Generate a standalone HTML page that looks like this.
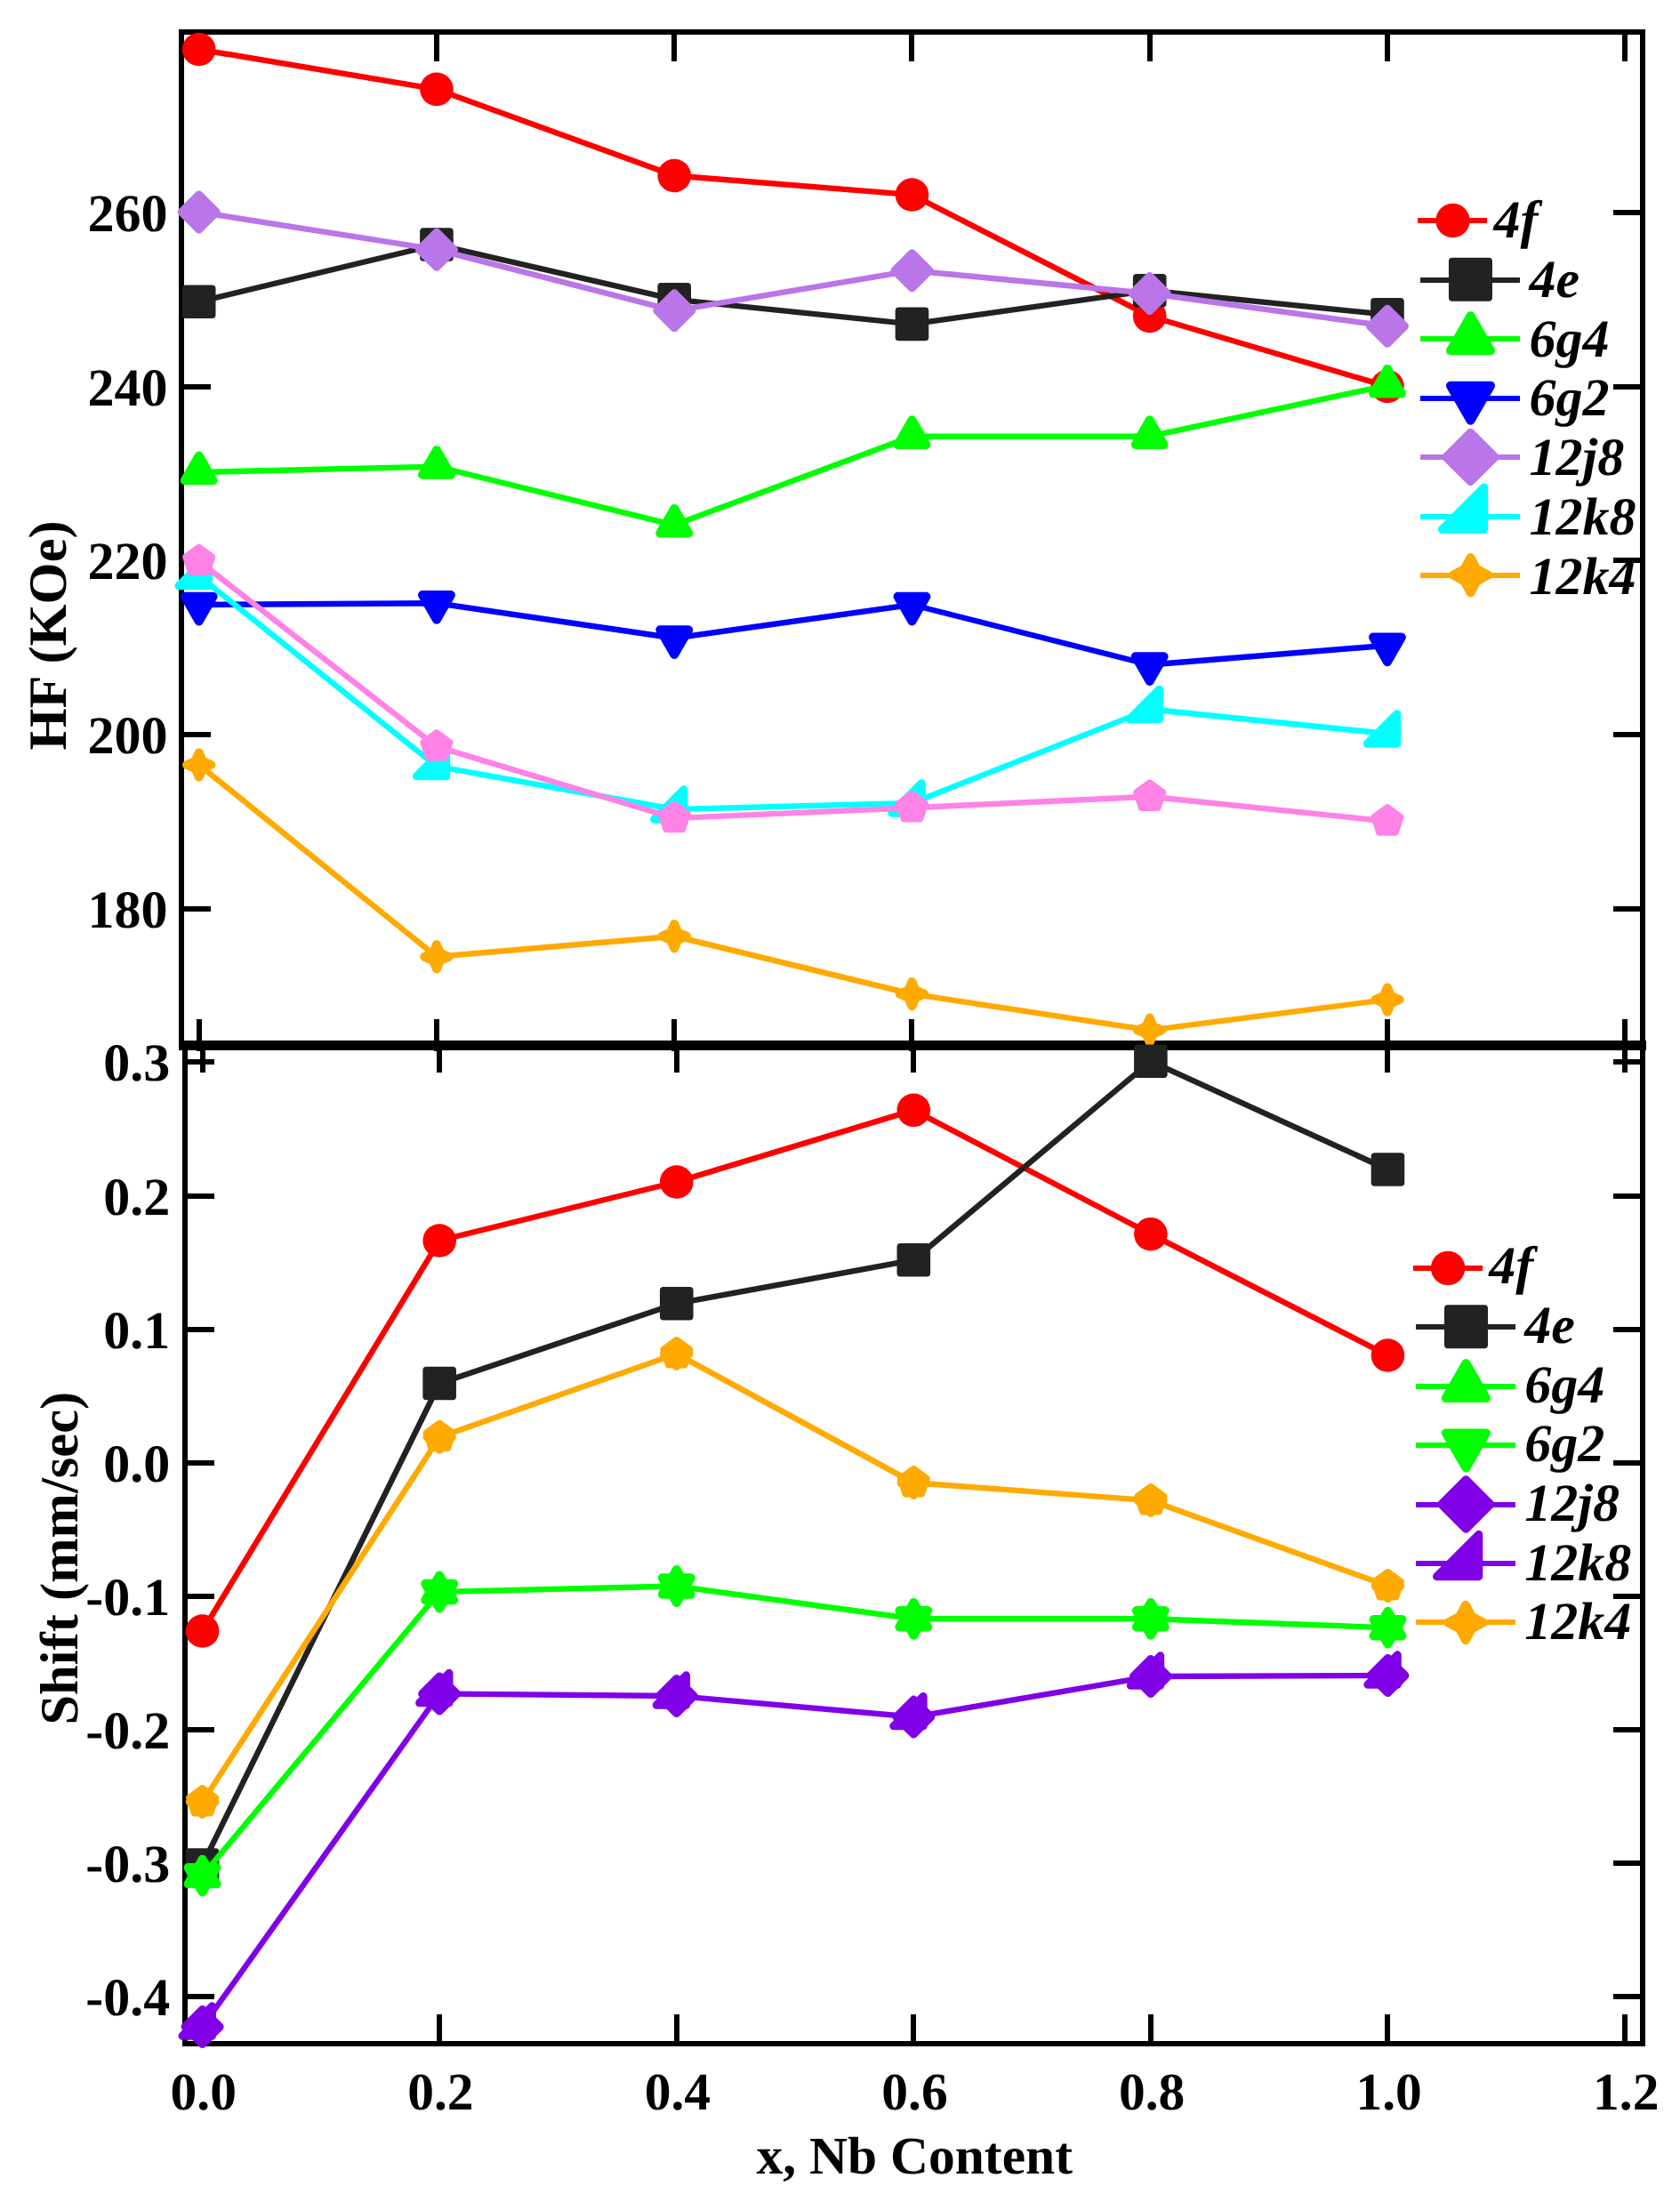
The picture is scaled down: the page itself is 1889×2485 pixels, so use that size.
<!DOCTYPE html>
<html lang="en"><head><meta charset="utf-8"><title>HF and Shift vs Nb Content</title>
<style>
html,body{margin:0;padding:0;background:#fff;}
body{width:1889px;height:2485px;overflow:hidden;}
svg{display:block;}
svg text{text-rendering:geometricPrecision;}
</style></head><body>
<svg width="1889" height="2485" viewBox="0 0 1889 2485" >
<g id="axes" shape-rendering="crispEdges">
<rect x="201.00" y="33.00" width="1649.00" height="6.00" fill="#000"/>
<rect x="201.00" y="33.00" width="6.00" height="1148.00" fill="#000"/>
<rect x="1844.00" y="33.00" width="6.00" height="2268.00" fill="#000"/>
<rect x="201.00" y="1170.00" width="1650.00" height="11.00" fill="#000"/>
<rect x="205.00" y="1181.00" width="6.00" height="1120.00" fill="#000"/>
<rect x="205.00" y="2295.00" width="1645.00" height="6.00" fill="#000"/>
<rect x="221.00" y="39.00" width="6.00" height="30.00" fill="#000"/>
<rect x="221.00" y="1146.00" width="6.00" height="36.00" fill="#000"/>
<rect x="488.00" y="39.00" width="6.00" height="30.00" fill="#000"/>
<rect x="488.00" y="1146.00" width="6.00" height="36.00" fill="#000"/>
<rect x="755.00" y="39.00" width="6.00" height="30.00" fill="#000"/>
<rect x="755.00" y="1146.00" width="6.00" height="36.00" fill="#000"/>
<rect x="1022.00" y="39.00" width="6.00" height="30.00" fill="#000"/>
<rect x="1022.00" y="1146.00" width="6.00" height="36.00" fill="#000"/>
<rect x="1290.00" y="39.00" width="6.00" height="30.00" fill="#000"/>
<rect x="1290.00" y="1146.00" width="6.00" height="36.00" fill="#000"/>
<rect x="1557.00" y="39.00" width="6.00" height="30.00" fill="#000"/>
<rect x="1557.00" y="1146.00" width="6.00" height="36.00" fill="#000"/>
<rect x="1824.00" y="39.00" width="6.00" height="30.00" fill="#000"/>
<rect x="1824.00" y="1146.00" width="6.00" height="36.00" fill="#000"/>
<rect x="225.00" y="1181.00" width="6.00" height="25.00" fill="#000"/>
<rect x="225.00" y="2265.00" width="6.00" height="30.00" fill="#000"/>
<rect x="491.00" y="1181.00" width="6.00" height="25.00" fill="#000"/>
<rect x="491.00" y="2265.00" width="6.00" height="30.00" fill="#000"/>
<rect x="758.00" y="1181.00" width="6.00" height="25.00" fill="#000"/>
<rect x="758.00" y="2265.00" width="6.00" height="30.00" fill="#000"/>
<rect x="1024.00" y="1181.00" width="6.00" height="25.00" fill="#000"/>
<rect x="1024.00" y="2265.00" width="6.00" height="30.00" fill="#000"/>
<rect x="1291.00" y="1181.00" width="6.00" height="25.00" fill="#000"/>
<rect x="1291.00" y="2265.00" width="6.00" height="30.00" fill="#000"/>
<rect x="1557.00" y="1181.00" width="6.00" height="25.00" fill="#000"/>
<rect x="1557.00" y="2265.00" width="6.00" height="30.00" fill="#000"/>
<rect x="1824.00" y="1181.00" width="6.00" height="25.00" fill="#000"/>
<rect x="1824.00" y="2265.00" width="6.00" height="30.00" fill="#000"/>
<rect x="207.00" y="236.00" width="30.00" height="6.00" fill="#000"/>
<rect x="1814.00" y="236.00" width="30.00" height="6.00" fill="#000"/>
<rect x="207.00" y="432.00" width="30.00" height="6.00" fill="#000"/>
<rect x="1814.00" y="432.00" width="30.00" height="6.00" fill="#000"/>
<rect x="207.00" y="627.00" width="30.00" height="6.00" fill="#000"/>
<rect x="1814.00" y="627.00" width="30.00" height="6.00" fill="#000"/>
<rect x="207.00" y="823.00" width="30.00" height="6.00" fill="#000"/>
<rect x="1814.00" y="823.00" width="30.00" height="6.00" fill="#000"/>
<rect x="207.00" y="1019.00" width="30.00" height="6.00" fill="#000"/>
<rect x="1814.00" y="1019.00" width="30.00" height="6.00" fill="#000"/>
<rect x="211.00" y="1191.00" width="30.00" height="6.00" fill="#000"/>
<rect x="1814.00" y="1191.00" width="30.00" height="6.00" fill="#000"/>
<rect x="211.00" y="1342.00" width="30.00" height="6.00" fill="#000"/>
<rect x="1814.00" y="1342.00" width="30.00" height="6.00" fill="#000"/>
<rect x="211.00" y="1492.00" width="30.00" height="6.00" fill="#000"/>
<rect x="1814.00" y="1492.00" width="30.00" height="6.00" fill="#000"/>
<rect x="211.00" y="1642.00" width="30.00" height="6.00" fill="#000"/>
<rect x="1814.00" y="1642.00" width="30.00" height="6.00" fill="#000"/>
<rect x="211.00" y="1792.00" width="30.00" height="6.00" fill="#000"/>
<rect x="1814.00" y="1792.00" width="30.00" height="6.00" fill="#000"/>
<rect x="211.00" y="1942.00" width="30.00" height="6.00" fill="#000"/>
<rect x="1814.00" y="1942.00" width="30.00" height="6.00" fill="#000"/>
<rect x="211.00" y="2092.00" width="30.00" height="6.00" fill="#000"/>
<rect x="1814.00" y="2092.00" width="30.00" height="6.00" fill="#000"/>
<rect x="211.00" y="2242.00" width="30.00" height="6.00" fill="#000"/>
<rect x="1814.00" y="2242.00" width="30.00" height="6.00" fill="#000"/>
</g>
<g font-family="'Liberation Serif', 'Times New Roman', serif" font-weight="bold" font-size="60px" fill="#000">
<text x="188.5" y="260.0" text-anchor="end">260</text>
<text x="188.5" y="456.0" text-anchor="end">240</text>
<text x="188.5" y="651.0" text-anchor="end">220</text>
<text x="188.5" y="847.0" text-anchor="end">200</text>
<text x="188.5" y="1043.0" text-anchor="end">180</text>
<text x="191.3" y="1215.4" text-anchor="end">0.3</text>
<text x="191.3" y="1366.4" text-anchor="end">0.2</text>
<text x="191.3" y="1516.4" text-anchor="end">0.1</text>
<text x="191.3" y="1666.4" text-anchor="end">0.0</text>
<text x="191.3" y="1816.4" text-anchor="end">-0.1</text>
<text x="191.3" y="1966.4" text-anchor="end">-0.2</text>
<text x="191.3" y="2116.4" text-anchor="end">-0.3</text>
<text x="191.3" y="2266.4" text-anchor="end">-0.4</text>
</g>
<g font-family="'Liberation Serif', 'Times New Roman', serif" font-weight="bold" font-size="59.5px" fill="#000">
<text x="228.8" y="2371.8" text-anchor="middle">0.0</text>
<text x="495.4" y="2371.8" text-anchor="middle">0.2</text>
<text x="761.9" y="2371.8" text-anchor="middle">0.4</text>
<text x="1028.5" y="2371.8" text-anchor="middle">0.6</text>
<text x="1295.1" y="2371.8" text-anchor="middle">0.8</text>
<text x="1561.6" y="2371.8" text-anchor="middle">1.0</text>
<text x="1828.2" y="2371.8" text-anchor="middle">1.2</text>
<text x="1028.3" y="2444.2" text-anchor="middle">x, Nb Content</text>
</g>
<g font-family="'Liberation Serif', 'Times New Roman', serif" font-weight="bold" font-size="60.5px" fill="#000">
<text transform="translate(73.8,714.4) rotate(-90)" text-anchor="middle">HF (KOe)</text>
<text transform="translate(87,1752.2) rotate(-90)" text-anchor="middle">Shift (mm/sec)</text>
</g>
<g id="top">
<polyline points="223.70,55.50 490.95,100.40 758.20,197.50 1025.45,219.00 1292.70,355.50 1559.95,434.50" fill="none" stroke="#ff0000" stroke-width="6.4" stroke-linejoin="round"/>
<circle cx="223.70" cy="55.50" r="18.80" fill="#ff0000"/>
<circle cx="490.95" cy="100.40" r="18.80" fill="#ff0000"/>
<circle cx="758.20" cy="197.50" r="18.80" fill="#ff0000"/>
<circle cx="1025.45" cy="219.00" r="18.80" fill="#ff0000"/>
<circle cx="1292.70" cy="355.50" r="18.80" fill="#ff0000"/>
<circle cx="1559.95" cy="434.50" r="18.80" fill="#ff0000"/>
<polyline points="223.70,339.30 490.95,275.00 758.20,336.70 1025.45,364.40 1292.70,326.70 1559.95,353.80" fill="none" stroke="#222222" stroke-width="6.4" stroke-linejoin="round"/>
<polygon points="208.90,324.50 238.50,324.50 238.50,354.10 208.90,354.10" fill="#222222" stroke="#222222" stroke-width="8" stroke-linejoin="round"/>
<polygon points="476.15,260.20 505.75,260.20 505.75,289.80 476.15,289.80" fill="#222222" stroke="#222222" stroke-width="8" stroke-linejoin="round"/>
<polygon points="743.40,321.90 773.00,321.90 773.00,351.50 743.40,351.50" fill="#222222" stroke="#222222" stroke-width="8" stroke-linejoin="round"/>
<polygon points="1010.65,349.60 1040.25,349.60 1040.25,379.20 1010.65,379.20" fill="#222222" stroke="#222222" stroke-width="8" stroke-linejoin="round"/>
<polygon points="1277.90,311.90 1307.50,311.90 1307.50,341.50 1277.90,341.50" fill="#222222" stroke="#222222" stroke-width="8" stroke-linejoin="round"/>
<polygon points="1545.15,339.00 1574.75,339.00 1574.75,368.60 1545.15,368.60" fill="#222222" stroke="#222222" stroke-width="8" stroke-linejoin="round"/>
<polyline points="223.70,531.00 490.95,524.60 758.20,590.30 1025.45,490.70 1292.70,490.70 1559.95,433.30" fill="none" stroke="#00ff00" stroke-width="6.4" stroke-linejoin="round"/>
<polygon points="223.70,512.60 239.63,540.20 207.77,540.20" fill="#00ff00" stroke="#00ff00" stroke-width="10" stroke-linejoin="round"/>
<polygon points="490.95,506.20 506.88,533.80 475.02,533.80" fill="#00ff00" stroke="#00ff00" stroke-width="10" stroke-linejoin="round"/>
<polygon points="758.20,571.90 774.13,599.50 742.27,599.50" fill="#00ff00" stroke="#00ff00" stroke-width="10" stroke-linejoin="round"/>
<polygon points="1025.45,472.30 1041.38,499.90 1009.52,499.90" fill="#00ff00" stroke="#00ff00" stroke-width="10" stroke-linejoin="round"/>
<polygon points="1292.70,472.30 1308.63,499.90 1276.77,499.90" fill="#00ff00" stroke="#00ff00" stroke-width="10" stroke-linejoin="round"/>
<polygon points="1559.95,414.90 1575.88,442.50 1544.02,442.50" fill="#00ff00" stroke="#00ff00" stroke-width="10" stroke-linejoin="round"/>
<polyline points="223.70,680.00 490.95,678.30 758.20,717.50 1025.45,680.00 1292.70,747.50 1559.95,725.80" fill="none" stroke="#0000ff" stroke-width="6.4" stroke-linejoin="round"/>
<polygon points="223.70,698.40 239.63,670.80 207.77,670.80" fill="#0000ff" stroke="#0000ff" stroke-width="10" stroke-linejoin="round"/>
<polygon points="490.95,696.70 506.88,669.10 475.02,669.10" fill="#0000ff" stroke="#0000ff" stroke-width="10" stroke-linejoin="round"/>
<polygon points="758.20,735.90 774.13,708.30 742.27,708.30" fill="#0000ff" stroke="#0000ff" stroke-width="10" stroke-linejoin="round"/>
<polygon points="1025.45,698.40 1041.38,670.80 1009.52,670.80" fill="#0000ff" stroke="#0000ff" stroke-width="10" stroke-linejoin="round"/>
<polygon points="1292.70,765.90 1308.63,738.30 1276.77,738.30" fill="#0000ff" stroke="#0000ff" stroke-width="10" stroke-linejoin="round"/>
<polygon points="1559.95,744.20 1575.88,716.60 1544.02,716.60" fill="#0000ff" stroke="#0000ff" stroke-width="10" stroke-linejoin="round"/>
<polyline points="223.70,238.50 490.95,280.70 758.20,349.30 1025.45,304.30 1292.70,330.00 1559.95,366.70" fill="none" stroke="#ba75e8" stroke-width="6.4" stroke-linejoin="round"/>
<polygon points="223.70,219.00 243.20,238.50 223.70,258.00 204.20,238.50" fill="#ba75e8" stroke="#ba75e8" stroke-width="9" stroke-linejoin="round"/>
<polygon points="490.95,261.20 510.45,280.70 490.95,300.20 471.45,280.70" fill="#ba75e8" stroke="#ba75e8" stroke-width="9" stroke-linejoin="round"/>
<polygon points="758.20,329.80 777.70,349.30 758.20,368.80 738.70,349.30" fill="#ba75e8" stroke="#ba75e8" stroke-width="9" stroke-linejoin="round"/>
<polygon points="1025.45,284.80 1044.95,304.30 1025.45,323.80 1005.95,304.30" fill="#ba75e8" stroke="#ba75e8" stroke-width="9" stroke-linejoin="round"/>
<polygon points="1292.70,310.50 1312.20,330.00 1292.70,349.50 1273.20,330.00" fill="#ba75e8" stroke="#ba75e8" stroke-width="9" stroke-linejoin="round"/>
<polygon points="1559.95,347.20 1579.45,366.70 1559.95,386.20 1540.45,366.70" fill="#ba75e8" stroke="#ba75e8" stroke-width="9" stroke-linejoin="round"/>
<polyline points="223.70,647.60 490.95,861.70 758.20,910.00 1025.45,903.00 1292.70,797.50 1559.95,825.00" fill="none" stroke="#00ffff" stroke-width="6.4" stroke-linejoin="round"/>
<polygon points="234.43,658.73 234.43,625.33 201.03,658.73" fill="#00ffff" stroke="#00ffff" stroke-width="9" stroke-linejoin="round"/>
<polygon points="501.68,872.83 501.68,839.43 468.28,872.83" fill="#00ffff" stroke="#00ffff" stroke-width="9" stroke-linejoin="round"/>
<polygon points="768.93,921.13 768.93,887.73 735.53,921.13" fill="#00ffff" stroke="#00ffff" stroke-width="9" stroke-linejoin="round"/>
<polygon points="1036.18,914.13 1036.18,880.73 1002.78,914.13" fill="#00ffff" stroke="#00ffff" stroke-width="9" stroke-linejoin="round"/>
<polygon points="1303.43,808.63 1303.43,775.23 1270.03,808.63" fill="#00ffff" stroke="#00ffff" stroke-width="9" stroke-linejoin="round"/>
<polygon points="1570.68,836.13 1570.68,802.73 1537.28,836.13" fill="#00ffff" stroke="#00ffff" stroke-width="9" stroke-linejoin="round"/>
<polyline points="223.70,860.00 490.95,1075.80 758.20,1052.70 1025.45,1117.70 1292.70,1158.30 1559.95,1124.00" fill="none" stroke="#ffaa00" stroke-width="6.4" stroke-linejoin="round"/>
<polygon points="223.70,846.30 227.80,855.90 237.40,860.00 227.80,864.10 223.70,873.70 219.60,864.10 210.00,860.00 219.60,855.90" fill="#ffaa00" stroke="#ffaa00" stroke-width="10" stroke-linejoin="round"/>
<polygon points="490.95,1062.10 495.05,1071.70 504.65,1075.80 495.05,1079.90 490.95,1089.50 486.85,1079.90 477.25,1075.80 486.85,1071.70" fill="#ffaa00" stroke="#ffaa00" stroke-width="10" stroke-linejoin="round"/>
<polygon points="758.20,1039.00 762.30,1048.60 771.90,1052.70 762.30,1056.80 758.20,1066.40 754.10,1056.80 744.50,1052.70 754.10,1048.60" fill="#ffaa00" stroke="#ffaa00" stroke-width="10" stroke-linejoin="round"/>
<polygon points="1025.45,1104.00 1029.55,1113.60 1039.15,1117.70 1029.55,1121.80 1025.45,1131.40 1021.35,1121.80 1011.75,1117.70 1021.35,1113.60" fill="#ffaa00" stroke="#ffaa00" stroke-width="10" stroke-linejoin="round"/>
<polygon points="1292.70,1144.60 1296.80,1154.20 1306.40,1158.30 1296.80,1162.40 1292.70,1172.00 1288.60,1162.40 1279.00,1158.30 1288.60,1154.20" fill="#ffaa00" stroke="#ffaa00" stroke-width="10" stroke-linejoin="round"/>
<polygon points="1559.95,1110.30 1564.05,1119.90 1573.65,1124.00 1564.05,1128.10 1559.95,1137.70 1555.85,1128.10 1546.25,1124.00 1555.85,1119.90" fill="#ffaa00" stroke="#ffaa00" stroke-width="10" stroke-linejoin="round"/>
<polyline points="223.70,630.90 490.95,839.50 758.20,920.00 1025.45,908.30 1292.70,895.70 1559.95,923.40" fill="none" stroke="#ff82e6" stroke-width="6.4" stroke-linejoin="round"/>
<polygon points="223.70,615.70 238.16,626.20 232.63,643.20 214.77,643.20 209.24,626.20" fill="#ff82e6" stroke="#ff82e6" stroke-width="8" stroke-linejoin="round"/>
<polygon points="490.95,824.30 505.41,834.80 499.88,851.80 482.02,851.80 476.49,834.80" fill="#ff82e6" stroke="#ff82e6" stroke-width="8" stroke-linejoin="round"/>
<polygon points="758.20,904.80 772.66,915.30 767.13,932.30 749.27,932.30 743.74,915.30" fill="#ff82e6" stroke="#ff82e6" stroke-width="8" stroke-linejoin="round"/>
<polygon points="1025.45,893.10 1039.91,903.60 1034.38,920.60 1016.52,920.60 1010.99,903.60" fill="#ff82e6" stroke="#ff82e6" stroke-width="8" stroke-linejoin="round"/>
<polygon points="1292.70,880.50 1307.16,891.00 1301.63,908.00 1283.77,908.00 1278.24,891.00" fill="#ff82e6" stroke="#ff82e6" stroke-width="8" stroke-linejoin="round"/>
<polygon points="1559.95,908.20 1574.41,918.70 1568.88,935.70 1551.02,935.70 1545.49,918.70" fill="#ff82e6" stroke="#ff82e6" stroke-width="8" stroke-linejoin="round"/>
</g>
<g id="bot">
<polyline points="227.60,1834.00 494.17,1395.00 760.74,1329.00 1027.31,1248.30 1293.88,1387.70 1560.45,1524.00" fill="none" stroke="#ff0000" stroke-width="6.4" stroke-linejoin="round"/>
<circle cx="227.60" cy="1834.00" r="18.80" fill="#ff0000"/>
<circle cx="494.17" cy="1395.00" r="18.80" fill="#ff0000"/>
<circle cx="760.74" cy="1329.00" r="18.80" fill="#ff0000"/>
<circle cx="1027.31" cy="1248.30" r="18.80" fill="#ff0000"/>
<circle cx="1293.88" cy="1387.70" r="18.80" fill="#ff0000"/>
<circle cx="1560.45" cy="1524.00" r="18.80" fill="#ff0000"/>
<polyline points="227.60,2097.00 494.17,1555.50 760.74,1465.70 1027.31,1416.70 1293.88,1193.30 1560.45,1315.00" fill="none" stroke="#222222" stroke-width="6.4" stroke-linejoin="round"/>
<polygon points="212.80,2082.20 242.40,2082.20 242.40,2111.80 212.80,2111.80" fill="#222222" stroke="#222222" stroke-width="8" stroke-linejoin="round"/>
<polygon points="479.37,1540.70 508.97,1540.70 508.97,1570.30 479.37,1570.30" fill="#222222" stroke="#222222" stroke-width="8" stroke-linejoin="round"/>
<polygon points="745.94,1450.90 775.54,1450.90 775.54,1480.50 745.94,1480.50" fill="#222222" stroke="#222222" stroke-width="8" stroke-linejoin="round"/>
<polygon points="1012.51,1401.90 1042.11,1401.90 1042.11,1431.50 1012.51,1431.50" fill="#222222" stroke="#222222" stroke-width="8" stroke-linejoin="round"/>
<polygon points="1279.08,1178.50 1308.68,1178.50 1308.68,1208.10 1279.08,1208.10" fill="#222222" stroke="#222222" stroke-width="8" stroke-linejoin="round"/>
<polygon points="1545.65,1300.20 1575.25,1300.20 1575.25,1329.80 1545.65,1329.80" fill="#222222" stroke="#222222" stroke-width="8" stroke-linejoin="round"/>
<polyline points="227.60,2109.10 494.17,1790.00 760.74,1783.50 1027.31,1820.30 1293.88,1820.30 1560.45,1830.20" fill="none" stroke="#00ff00" stroke-width="6.4" stroke-linejoin="round"/>
<polygon points="227.60,2090.70 243.53,2118.30 211.67,2118.30" fill="#00ff00" stroke="#00ff00" stroke-width="10" stroke-linejoin="round"/>
<polygon points="494.17,1771.60 510.10,1799.20 478.24,1799.20" fill="#00ff00" stroke="#00ff00" stroke-width="10" stroke-linejoin="round"/>
<polygon points="760.74,1765.10 776.67,1792.70 744.81,1792.70" fill="#00ff00" stroke="#00ff00" stroke-width="10" stroke-linejoin="round"/>
<polygon points="1027.31,1801.90 1043.24,1829.50 1011.38,1829.50" fill="#00ff00" stroke="#00ff00" stroke-width="10" stroke-linejoin="round"/>
<polygon points="1293.88,1801.90 1309.81,1829.50 1277.95,1829.50" fill="#00ff00" stroke="#00ff00" stroke-width="10" stroke-linejoin="round"/>
<polygon points="1560.45,1811.80 1576.38,1839.40 1544.52,1839.40" fill="#00ff00" stroke="#00ff00" stroke-width="10" stroke-linejoin="round"/>
<polygon points="227.60,2127.50 243.53,2099.90 211.67,2099.90" fill="#00ff00" stroke="#00ff00" stroke-width="10" stroke-linejoin="round"/>
<polygon points="494.17,1808.40 510.10,1780.80 478.24,1780.80" fill="#00ff00" stroke="#00ff00" stroke-width="10" stroke-linejoin="round"/>
<polygon points="760.74,1801.90 776.67,1774.30 744.81,1774.30" fill="#00ff00" stroke="#00ff00" stroke-width="10" stroke-linejoin="round"/>
<polygon points="1027.31,1838.70 1043.24,1811.10 1011.38,1811.10" fill="#00ff00" stroke="#00ff00" stroke-width="10" stroke-linejoin="round"/>
<polygon points="1293.88,1838.70 1309.81,1811.10 1277.95,1811.10" fill="#00ff00" stroke="#00ff00" stroke-width="10" stroke-linejoin="round"/>
<polygon points="1560.45,1848.60 1576.38,1821.00 1544.52,1821.00" fill="#00ff00" stroke="#00ff00" stroke-width="10" stroke-linejoin="round"/>
<polyline points="227.60,2279.00 494.17,1904.50 760.74,1907.00 1027.31,1930.60 1293.88,1885.00 1560.45,1884.00" fill="none" stroke="#8000e8" stroke-width="6.4" stroke-linejoin="round"/>
<polygon points="227.60,2259.50 247.10,2279.00 227.60,2298.50 208.10,2279.00" fill="#8000e8" stroke="#8000e8" stroke-width="9" stroke-linejoin="round"/>
<polygon points="494.17,1885.00 513.67,1904.50 494.17,1924.00 474.67,1904.50" fill="#8000e8" stroke="#8000e8" stroke-width="9" stroke-linejoin="round"/>
<polygon points="760.74,1887.50 780.24,1907.00 760.74,1926.50 741.24,1907.00" fill="#8000e8" stroke="#8000e8" stroke-width="9" stroke-linejoin="round"/>
<polygon points="1027.31,1911.10 1046.81,1930.60 1027.31,1950.10 1007.81,1930.60" fill="#8000e8" stroke="#8000e8" stroke-width="9" stroke-linejoin="round"/>
<polygon points="1293.88,1865.50 1313.38,1885.00 1293.88,1904.50 1274.38,1885.00" fill="#8000e8" stroke="#8000e8" stroke-width="9" stroke-linejoin="round"/>
<polygon points="1560.45,1864.50 1579.95,1884.00 1560.45,1903.50 1540.95,1884.00" fill="#8000e8" stroke="#8000e8" stroke-width="9" stroke-linejoin="round"/>
<polygon points="238.43,2289.23 238.43,2255.83 205.03,2289.23" fill="#8000e8" stroke="#8000e8" stroke-width="9" stroke-linejoin="round"/>
<polygon points="505.00,1914.73 505.00,1881.33 471.60,1914.73" fill="#8000e8" stroke="#8000e8" stroke-width="9" stroke-linejoin="round"/>
<polygon points="771.57,1917.23 771.57,1883.83 738.17,1917.23" fill="#8000e8" stroke="#8000e8" stroke-width="9" stroke-linejoin="round"/>
<polygon points="1038.14,1940.83 1038.14,1907.43 1004.74,1940.83" fill="#8000e8" stroke="#8000e8" stroke-width="9" stroke-linejoin="round"/>
<polygon points="1304.71,1895.23 1304.71,1861.83 1271.31,1895.23" fill="#8000e8" stroke="#8000e8" stroke-width="9" stroke-linejoin="round"/>
<polygon points="1571.28,1894.23 1571.28,1860.83 1537.88,1894.23" fill="#8000e8" stroke="#8000e8" stroke-width="9" stroke-linejoin="round"/>
<polyline points="227.60,2026.20 494.17,1616.00 760.74,1522.30 1027.31,1667.30 1293.88,1687.30 1560.45,1783.30" fill="none" stroke="#ffaa00" stroke-width="6.4" stroke-linejoin="round"/>
<polygon points="227.60,2012.50 231.70,2022.10 241.30,2026.20 231.70,2030.30 227.60,2039.90 223.50,2030.30 213.90,2026.20 223.50,2022.10" fill="#ffaa00" stroke="#ffaa00" stroke-width="10" stroke-linejoin="round"/>
<polygon points="494.17,1602.30 498.27,1611.90 507.87,1616.00 498.27,1620.10 494.17,1629.70 490.07,1620.10 480.47,1616.00 490.07,1611.90" fill="#ffaa00" stroke="#ffaa00" stroke-width="10" stroke-linejoin="round"/>
<polygon points="760.74,1508.60 764.84,1518.20 774.44,1522.30 764.84,1526.40 760.74,1536.00 756.64,1526.40 747.04,1522.30 756.64,1518.20" fill="#ffaa00" stroke="#ffaa00" stroke-width="10" stroke-linejoin="round"/>
<polygon points="1027.31,1653.60 1031.41,1663.20 1041.01,1667.30 1031.41,1671.40 1027.31,1681.00 1023.21,1671.40 1013.61,1667.30 1023.21,1663.20" fill="#ffaa00" stroke="#ffaa00" stroke-width="10" stroke-linejoin="round"/>
<polygon points="1293.88,1673.60 1297.98,1683.20 1307.58,1687.30 1297.98,1691.40 1293.88,1701.00 1289.78,1691.40 1280.18,1687.30 1289.78,1683.20" fill="#ffaa00" stroke="#ffaa00" stroke-width="10" stroke-linejoin="round"/>
<polygon points="1560.45,1769.60 1564.55,1779.20 1574.15,1783.30 1564.55,1787.40 1560.45,1797.00 1556.35,1787.40 1546.75,1783.30 1556.35,1779.20" fill="#ffaa00" stroke="#ffaa00" stroke-width="10" stroke-linejoin="round"/>
<polygon points="227.60,2011.00 242.06,2021.50 236.53,2038.50 218.67,2038.50 213.14,2021.50" fill="#ffaa00" stroke="#ffaa00" stroke-width="8" stroke-linejoin="round"/>
<polygon points="494.17,1600.80 508.63,1611.30 503.10,1628.30 485.24,1628.30 479.71,1611.30" fill="#ffaa00" stroke="#ffaa00" stroke-width="8" stroke-linejoin="round"/>
<polygon points="760.74,1507.10 775.20,1517.60 769.67,1534.60 751.81,1534.60 746.28,1517.60" fill="#ffaa00" stroke="#ffaa00" stroke-width="8" stroke-linejoin="round"/>
<polygon points="1027.31,1652.10 1041.77,1662.60 1036.24,1679.60 1018.38,1679.60 1012.85,1662.60" fill="#ffaa00" stroke="#ffaa00" stroke-width="8" stroke-linejoin="round"/>
<polygon points="1293.88,1672.10 1308.34,1682.60 1302.81,1699.60 1284.95,1699.60 1279.42,1682.60" fill="#ffaa00" stroke="#ffaa00" stroke-width="8" stroke-linejoin="round"/>
<polygon points="1560.45,1768.10 1574.91,1778.60 1569.38,1795.60 1551.52,1795.60 1545.99,1778.60" fill="#ffaa00" stroke="#ffaa00" stroke-width="8" stroke-linejoin="round"/>
</g>
<g shape-rendering="geometricPrecision">
<line x1="1594.00" y1="248.00" x2="1672.00" y2="248.00" stroke="#ff0000" stroke-width="6"/>
<circle cx="1633.50" cy="248.00" r="19.20" fill="#ff0000"/>
<line x1="1597.00" y1="315.00" x2="1709.00" y2="315.00" stroke="#222222" stroke-width="6"/>
<polygon points="1632.95,293.85 1673.95,293.85 1673.95,334.85 1632.95,334.85" fill="#222222" stroke="#222222" stroke-width="8" stroke-linejoin="round"/>
<line x1="1597.00" y1="381.00" x2="1709.00" y2="381.00" stroke="#00ff00" stroke-width="6"/>
<polygon points="1653.50,355.20 1676.02,394.20 1630.98,394.20" fill="#00ff00" stroke="#00ff00" stroke-width="10" stroke-linejoin="round"/>
<line x1="1597.00" y1="448.00" x2="1709.00" y2="448.00" stroke="#0000ff" stroke-width="6"/>
<polygon points="1653.50,472.70 1676.02,433.70 1630.98,433.70" fill="#0000ff" stroke="#0000ff" stroke-width="10" stroke-linejoin="round"/>
<line x1="1597.00" y1="514.00" x2="1709.00" y2="514.00" stroke="#ba75e8" stroke-width="6"/>
<polygon points="1653.45,486.25 1681.15,513.95 1653.45,541.65 1625.75,513.95" fill="#ba75e8" stroke="#ba75e8" stroke-width="9" stroke-linejoin="round"/>
<line x1="1597.00" y1="581.00" x2="1709.00" y2="581.00" stroke="#00ffff" stroke-width="6"/>
<polygon points="1668.67,595.27 1668.67,547.97 1621.37,595.27" fill="#00ffff" stroke="#00ffff" stroke-width="9" stroke-linejoin="round"/>
<line x1="1597.00" y1="647.00" x2="1709.00" y2="647.00" stroke="#ffaa00" stroke-width="6"/>
<polygon points="1653.50,627.05 1660.30,639.90 1673.15,646.70 1660.30,653.50 1653.50,666.35 1646.70,653.50 1633.85,646.70 1646.70,639.90" fill="#ffaa00" stroke="#ffaa00" stroke-width="10" stroke-linejoin="round"/>
</g>
<g font-family="'Liberation Serif', 'Times New Roman', serif" font-weight="bold" font-style="italic" font-size="60px" fill="#000">
<text x="1679.5" y="267.0">4f</text>
<text x="1719.5" y="333.8">4e</text>
<text x="1719.5" y="400.5">6g4</text>
<text x="1719.5" y="467.2">6g2</text>
<text x="1719.5" y="534.0">12j8</text>
<text x="1719.5" y="600.8">12k8</text>
<text x="1719.5" y="667.5">12k4</text>
</g>
<g shape-rendering="geometricPrecision">
<line x1="1589.00" y1="1426.00" x2="1667.00" y2="1426.00" stroke="#ff0000" stroke-width="6"/>
<circle cx="1628.10" cy="1425.90" r="19.20" fill="#ff0000"/>
<line x1="1592.00" y1="1492.00" x2="1704.00" y2="1492.00" stroke="#222222" stroke-width="6"/>
<polygon points="1628.00,1471.20 1669.00,1471.20 1669.00,1512.20 1628.00,1512.20" fill="#222222" stroke="#222222" stroke-width="8" stroke-linejoin="round"/>
<line x1="1592.00" y1="1559.00" x2="1704.00" y2="1559.00" stroke="#00ff00" stroke-width="6"/>
<polygon points="1648.40,1533.10 1670.92,1572.10 1625.88,1572.10" fill="#00ff00" stroke="#00ff00" stroke-width="10" stroke-linejoin="round"/>
<line x1="1592.00" y1="1625.00" x2="1704.00" y2="1625.00" stroke="#00ff00" stroke-width="6"/>
<polygon points="1648.40,1650.40 1670.92,1611.40 1625.88,1611.40" fill="#00ff00" stroke="#00ff00" stroke-width="10" stroke-linejoin="round"/>
<line x1="1592.00" y1="1692.00" x2="1704.00" y2="1692.00" stroke="#8000e8" stroke-width="6"/>
<polygon points="1648.30,1663.80 1676.00,1691.50 1648.30,1719.20 1620.60,1691.50" fill="#8000e8" stroke="#8000e8" stroke-width="9" stroke-linejoin="round"/>
<line x1="1592.00" y1="1758.00" x2="1704.00" y2="1758.00" stroke="#8000e8" stroke-width="6"/>
<polygon points="1662.77,1772.67 1662.77,1725.37 1615.47,1772.67" fill="#8000e8" stroke="#8000e8" stroke-width="9" stroke-linejoin="round"/>
<line x1="1592.00" y1="1824.00" x2="1704.00" y2="1824.00" stroke="#ffaa00" stroke-width="6"/>
<polygon points="1648.00,1804.85 1654.80,1817.70 1667.65,1824.50 1654.80,1831.30 1648.00,1844.15 1641.20,1831.30 1628.35,1824.50 1641.20,1817.70" fill="#ffaa00" stroke="#ffaa00" stroke-width="10" stroke-linejoin="round"/>
</g>
<g font-family="'Liberation Serif', 'Times New Roman', serif" font-weight="bold" font-style="italic" font-size="60px" fill="#000">
<text x="1674.3" y="1443.2">4f</text>
<text x="1714.3" y="1509.9">4e</text>
<text x="1714.3" y="1576.6">6g4</text>
<text x="1714.3" y="1643.3">6g2</text>
<text x="1714.3" y="1710.0">12j8</text>
<text x="1714.3" y="1776.7">12k8</text>
<text x="1714.3" y="1843.4">12k4</text>
</g>
</svg>
</body></html>
